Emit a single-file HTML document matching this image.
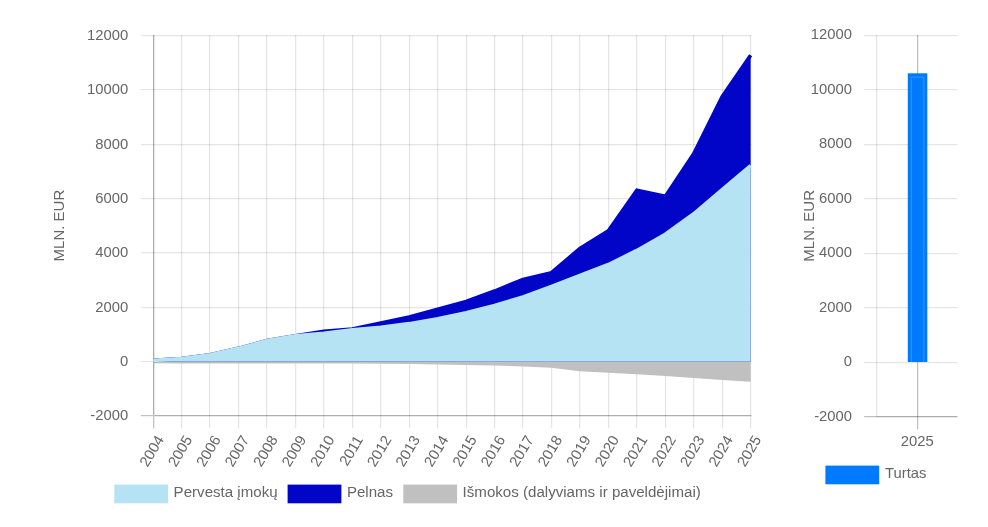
<!DOCTYPE html>
<html lang="lt"><head><meta charset="utf-8"><title>Pensij&#371; fondai</title>
<style>
html,body{margin:0;padding:0;background:#fff;}
body{width:988px;height:527px;overflow:hidden;position:relative;font-family:"Liberation Sans",sans-serif;}
svg{position:absolute;left:0;top:0;display:block;}
text{font-family:"Liberation Sans",sans-serif;font-size:14.8px;fill:#666;}
</style></head><body>
<svg width="988" height="527" viewBox="0 0 988 527">
<rect width="988" height="527" fill="#fff"/>

<g>
<rect x="153" y="35.0" width="1.3" height="380.00" fill="#adadad"/>
<rect x="153" y="415" width="1.3" height="13.35" fill="#c2c2c2"/>
<rect x="140.85" y="415" width="12.15" height="1.235" fill="#c2c2c2"/>
<rect x="154.3" y="415" width="596.95" height="1.235" fill="#adadad"/>
<rect x="181" y="35.00" width="1.235" height="393.35" fill="rgba(0,0,0,0.1)"/>
<rect x="209" y="35.00" width="1.235" height="393.35" fill="rgba(0,0,0,0.1)"/>
<rect x="238" y="35.00" width="1.235" height="393.35" fill="rgba(0,0,0,0.1)"/>
<rect x="266" y="35.00" width="1.235" height="393.35" fill="rgba(0,0,0,0.1)"/>
<rect x="295" y="35.00" width="1.235" height="393.35" fill="rgba(0,0,0,0.1)"/>
<rect x="323" y="35.00" width="1.235" height="393.35" fill="rgba(0,0,0,0.1)"/>
<rect x="352" y="35.00" width="1.235" height="393.35" fill="rgba(0,0,0,0.1)"/>
<rect x="380" y="35.00" width="1.235" height="393.35" fill="rgba(0,0,0,0.1)"/>
<rect x="409" y="35.00" width="1.235" height="393.35" fill="rgba(0,0,0,0.1)"/>
<rect x="437" y="35.00" width="1.235" height="393.35" fill="rgba(0,0,0,0.1)"/>
<rect x="466" y="35.00" width="1.235" height="393.35" fill="rgba(0,0,0,0.1)"/>
<rect x="494" y="35.00" width="1.235" height="393.35" fill="rgba(0,0,0,0.1)"/>
<rect x="522" y="35.00" width="1.235" height="393.35" fill="rgba(0,0,0,0.1)"/>
<rect x="551" y="35.00" width="1.235" height="393.35" fill="rgba(0,0,0,0.1)"/>
<rect x="579" y="35.00" width="1.235" height="393.35" fill="rgba(0,0,0,0.1)"/>
<rect x="608" y="35.00" width="1.235" height="393.35" fill="rgba(0,0,0,0.1)"/>
<rect x="636" y="35.00" width="1.235" height="393.35" fill="rgba(0,0,0,0.1)"/>
<rect x="665" y="35.00" width="1.235" height="393.35" fill="rgba(0,0,0,0.1)"/>
<rect x="693" y="35.00" width="1.235" height="393.35" fill="rgba(0,0,0,0.1)"/>
<rect x="722" y="35.00" width="1.235" height="393.35" fill="rgba(0,0,0,0.1)"/>
<rect x="750" y="35.00" width="1.235" height="393.35" fill="rgba(0,0,0,0.1)"/>
<rect x="140.85" y="35" width="610.40" height="1.235" fill="rgba(0,0,0,0.1)"/>
<rect x="140.85" y="89" width="610.40" height="1.235" fill="rgba(0,0,0,0.1)"/>
<rect x="140.85" y="144" width="610.40" height="1.235" fill="rgba(0,0,0,0.1)"/>
<rect x="140.85" y="198" width="610.40" height="1.235" fill="rgba(0,0,0,0.1)"/>
<rect x="140.85" y="252" width="610.40" height="1.235" fill="rgba(0,0,0,0.1)"/>
<rect x="140.85" y="307" width="610.40" height="1.235" fill="rgba(0,0,0,0.1)"/>
<rect x="140.85" y="361" width="610.40" height="1.235" fill="rgba(0,0,0,0.1)"/>
</g>
<defs><clipPath id="cl"><rect x="151.35" y="33.65" width="601.15" height="383.70"/></clipPath></defs>
<g clip-path="url(#cl)">
<polygon points="153.20,361.50 153.20,361.50 181.65,361.55 210.10,361.58 238.55,361.61 267.00,361.64 295.45,361.66 323.90,361.72 352.35,361.77 380.80,361.88 409.25,362.10 437.70,362.56 466.15,363.05 494.60,363.75 523.05,364.54 551.50,365.84 579.95,369.35 608.40,370.84 636.85,372.36 665.30,374.21 693.75,376.11 722.20,378.09 750.65,379.80 750.65,361.50" fill="#c0c0c0"/>
<polyline points="153.20,361.50 181.65,361.55 210.10,361.58 238.55,361.61 267.00,361.64 295.45,361.66 323.90,361.72 352.35,361.77 380.80,361.88 409.25,362.10 437.70,362.56 466.15,363.05 494.60,363.75 523.05,364.54 551.50,365.84 579.95,369.35 608.40,370.84 636.85,372.36 665.30,374.21 693.75,376.11 722.20,378.09 750.65,379.80" fill="none" stroke="#c0c0c0" stroke-width="3.7" stroke-linejoin="miter" stroke-linecap="butt"/>
<polygon points="153.20,361.50 153.20,360.36 181.65,358.70 210.10,354.71 238.55,348.41 267.00,340.59 295.45,335.90 323.90,331.31 352.35,329.11 380.80,322.95 409.25,317.06 437.70,309.21 466.15,301.61 494.60,291.10 523.05,279.40 551.50,272.72 579.95,248.50 608.40,230.91 636.85,190.35 665.30,196.43 693.75,153.80 722.20,96.79 750.65,55.17 750.65,361.50" fill="#0005c8"/>
<polyline points="153.20,360.36 181.65,358.70 210.10,354.71 238.55,348.41 267.00,340.59 295.45,335.90 323.90,331.31 352.35,329.11 380.80,322.95 409.25,317.06 437.70,309.21 466.15,301.61 494.60,291.10 523.05,279.40 551.50,272.72 579.95,248.50 608.40,230.91 636.85,190.35 665.30,196.43 693.75,153.80 722.20,96.79 750.65,55.17" fill="none" stroke="#0005c8" stroke-width="3.7" stroke-linejoin="miter" stroke-linecap="butt"/>
<polygon points="153.20,361.50 153.20,360.36 181.65,358.70 210.10,354.71 238.55,348.41 267.00,340.59 295.45,335.90 323.90,333.40 352.35,329.90 380.80,327.29 409.25,323.71 437.70,318.71 466.15,312.79 494.60,305.46 523.05,296.91 551.50,286.59 579.95,275.54 608.40,264.60 636.85,250.51 665.30,234.30 693.75,213.80 722.20,189.78 750.65,165.69 750.65,361.50" fill="#b5e3f3"/>
<polyline points="153.20,360.36 181.65,358.70 210.10,354.71 238.55,348.41 267.00,340.59 295.45,335.90 323.90,333.40 352.35,329.90 380.80,327.29 409.25,323.71 437.70,318.71 466.15,312.79 494.60,305.46 523.05,296.91 551.50,286.59 579.95,275.54 608.40,264.60 636.85,250.51 665.30,234.30 693.75,213.80 722.20,189.78 750.65,165.69" fill="none" stroke="#b5e3f3" stroke-width="3.7" stroke-linejoin="miter" stroke-linecap="butt"/>
</g>
<text x="128.2" y="40.00" text-anchor="end">12000</text>
<text x="128.2" y="94.30" text-anchor="end">10000</text>
<text x="128.2" y="148.60" text-anchor="end">8000</text>
<text x="128.2" y="202.90" text-anchor="end">6000</text>
<text x="128.2" y="257.20" text-anchor="end">4000</text>
<text x="128.2" y="311.50" text-anchor="end">2000</text>
<text x="128.2" y="365.80" text-anchor="end">0</text>
<text x="128.2" y="420.10" text-anchor="end">-2000</text>
<text transform="translate(63.7,225.6) rotate(-90)" text-anchor="middle" style="font-size:15px">MLN. EUR</text>
<text transform="translate(164.40,439.5) rotate(-59)" text-anchor="end">2004</text>
<text transform="translate(192.85,439.5) rotate(-59)" text-anchor="end">2005</text>
<text transform="translate(221.30,439.5) rotate(-59)" text-anchor="end">2006</text>
<text transform="translate(249.75,439.5) rotate(-59)" text-anchor="end">2007</text>
<text transform="translate(278.20,439.5) rotate(-59)" text-anchor="end">2008</text>
<text transform="translate(306.65,439.5) rotate(-59)" text-anchor="end">2009</text>
<text transform="translate(335.10,439.5) rotate(-59)" text-anchor="end">2010</text>
<text transform="translate(363.55,439.5) rotate(-59)" text-anchor="end">2011</text>
<text transform="translate(392.00,439.5) rotate(-59)" text-anchor="end">2012</text>
<text transform="translate(420.45,439.5) rotate(-59)" text-anchor="end">2013</text>
<text transform="translate(448.90,439.5) rotate(-59)" text-anchor="end">2014</text>
<text transform="translate(477.35,439.5) rotate(-59)" text-anchor="end">2015</text>
<text transform="translate(505.80,439.5) rotate(-59)" text-anchor="end">2016</text>
<text transform="translate(534.25,439.5) rotate(-59)" text-anchor="end">2017</text>
<text transform="translate(562.70,439.5) rotate(-59)" text-anchor="end">2018</text>
<text transform="translate(591.15,439.5) rotate(-59)" text-anchor="end">2019</text>
<text transform="translate(619.60,439.5) rotate(-59)" text-anchor="end">2020</text>
<text transform="translate(648.05,439.5) rotate(-59)" text-anchor="end">2021</text>
<text transform="translate(676.50,439.5) rotate(-59)" text-anchor="end">2022</text>
<text transform="translate(704.95,439.5) rotate(-59)" text-anchor="end">2023</text>
<text transform="translate(733.40,439.5) rotate(-59)" text-anchor="end">2024</text>
<text transform="translate(761.85,439.5) rotate(-59)" text-anchor="end">2025</text>
<rect x="114.3" y="484.6" width="53.8" height="18.7" fill="#b5e3f3"/>
<text x="173.6" y="497.40" style="font-size:15.1px">Pervesta įmokų</text>
<rect x="287.6" y="484.6" width="53.8" height="18.7" fill="#0005c8"/>
<text x="346.9" y="497.40" style="font-size:15.1px">Pelnas</text>
<rect x="403.3" y="484.6" width="53.8" height="18.7" fill="#c0c0c0"/>
<text x="462.6" y="497.40" style="font-size:15.1px">Išmokos (dalyviams ir paveldėjimai)</text>
<g>
<rect x="876" y="35.0" width="1.235" height="381.50" fill="rgba(0,0,0,0.1)"/>
<rect x="917" y="35.0" width="1.235" height="394.35" fill="rgba(0,0,0,0.25)"/>
<rect x="864.15" y="35" width="93.35" height="1.235" fill="rgba(0,0,0,0.1)"/>
<rect x="864.15" y="89" width="93.35" height="1.235" fill="rgba(0,0,0,0.1)"/>
<rect x="864.15" y="144" width="93.35" height="1.235" fill="rgba(0,0,0,0.1)"/>
<rect x="864.15" y="198" width="93.35" height="1.235" fill="rgba(0,0,0,0.1)"/>
<rect x="864.15" y="253" width="93.35" height="1.235" fill="rgba(0,0,0,0.1)"/>
<rect x="864.15" y="307" width="93.35" height="1.235" fill="rgba(0,0,0,0.1)"/>
<rect x="864.15" y="362" width="93.35" height="1.235" fill="rgba(0,0,0,0.1)"/>
<rect x="864.15" y="416" width="93.35" height="1.235" fill="rgba(0,0,0,0.25)"/>
<rect x="876.50" y="416" width="81.00" height="1.235" fill="rgba(0,0,0,0.1)"/>
</g>
<rect x="907.8" y="73.3" width="19.50" height="288.70" fill="#007bff"/>
<path d="M911.30,362.0 V77.20 H923.80 V362.0" fill="none" stroke="#4da3ff" stroke-width="0.9" opacity="0.8"/>
<text x="852.0" y="39.25" text-anchor="end">12000</text>
<text x="852.0" y="93.74" text-anchor="end">10000</text>
<text x="852.0" y="148.22" text-anchor="end">8000</text>
<text x="852.0" y="202.71" text-anchor="end">6000</text>
<text x="852.0" y="257.19" text-anchor="end">4000</text>
<text x="852.0" y="311.68" text-anchor="end">2000</text>
<text x="852.0" y="366.17" text-anchor="end">0</text>
<text x="852.0" y="420.65" text-anchor="end">-2000</text>
<text transform="translate(813.9,225.8) rotate(-90)" text-anchor="middle" style="font-size:15px">MLN. EUR</text>
<text x="917.3" y="445.5" text-anchor="middle">2025</text>
<rect x="825.4" y="465.6" width="53.8" height="18.7" fill="#007bff"/>
<text x="885.1" y="478.4">Turtas</text>
</svg></body></html>
